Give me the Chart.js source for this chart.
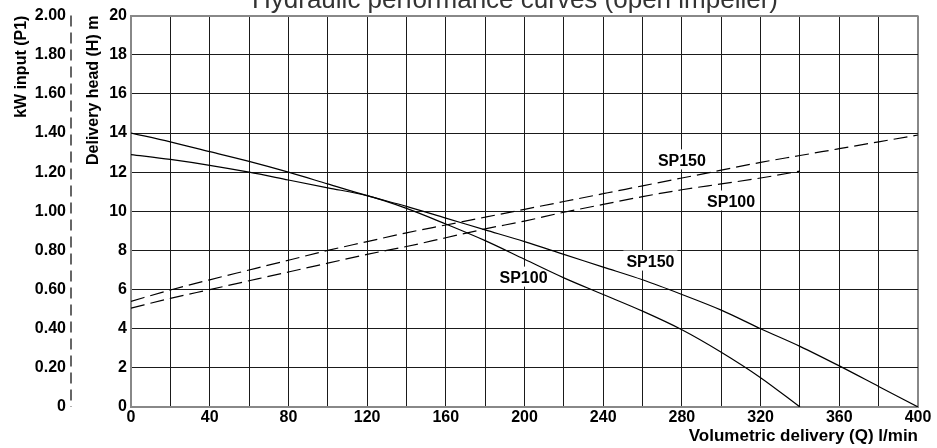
<!DOCTYPE html>
<html>
<head>
<meta charset="utf-8">
<script src="https://cdn.jsdelivr.net/npm/chart.js@4"></script>
<style>
  html, body { margin: 0; padding: 0; background: #fff; }
</style>
</head>
<body>
<canvas id="chart" width="937" height="448"></canvas>
<script>
// flow steps (l/min)
const flowQ = [0, 20, 40, 60, 80, 100, 120, 140, 160, 180, 200, 220, 240, 260, 280, 300, 320, 340, 360, 380, 400];

// delivery head (m)
const headSP150 = [14.0, 13.55, 13.05, 12.55, 12.0, 11.4, 10.8, 10.25, 9.65, 9.05, 8.45, 7.8, 7.15, 6.5, 5.75, 4.95, 4.0, 3.1, 2.1, 1.05, 0];
const headSP100 = [12.9, 12.65, 12.35, 12.0, 11.6, 11.2, 10.8, 10.15, 9.35, 8.5, 7.55, 6.6, 5.75, 4.9, 3.95, 2.8, 1.5, 0];

// kW input (P1)
const powerSP150 = [0.54, 0.598, 0.65, 0.70, 0.75, 0.80, 0.845, 0.89, 0.93, 0.97, 1.01, 1.05, 1.09, 1.13, 1.17, 1.21, 1.25, 1.285, 1.32, 1.355, 1.39];
const powerSP100 = [0.505, 0.555, 0.60, 0.645, 0.69, 0.735, 0.78, 0.82, 0.865, 0.91, 0.95, 0.995, 1.035, 1.075, 1.11, 1.14, 1.17, 1.205];

const chartTitle = 'Hydraulic performance curves (open impeller)';

// curve names written on the plot (data coords: Q, H)
const curveLabels = [
  { text: 'SP150', q: 280, h: 12.55 },
  { text: 'SP100', q: 305, h: 10.45 },
  { text: 'SP150', q: 264, h: 7.38 },
  { text: 'SP100', q: 199.5, h: 6.56 },
];

const toPoints = (vals) => vals.map((v, i) => ({ x: flowQ[i], y: v }));

const FONT = '"Liberation Sans", Arial, sans-serif';
Chart.defaults.font.family = FONT;
Chart.defaults.color = '#000';

const isEdge = (ctx) => ctx.index === 0 || ctx.index === ctx.scale.ticks.length - 1;
const gridColor = (ctx) => isEdge(ctx) ? '#888' : '#1a1a1a';
const gridWidth = (ctx) => isEdge(ctx) ? 2 : 1;

const overlay = {
  id: 'overlay',
  beforeDatasetsDraw(chart) {
    const { ctx, scales: { x, y } } = chart;
    ctx.save();
    ctx.font = 'bold 16px ' + FONT;
    ctx.textAlign = 'center';
    ctx.textBaseline = 'middle';
    curveLabels.forEach(l => {
      const px = x.getPixelForValue(l.q);
      const py = y.getPixelForValue(l.h);
      const w = ctx.measureText(l.text).width + 6;
      ctx.fillStyle = '#fff';
      ctx.fillRect(px - w / 2, py - 12, w, 20);
      ctx.fillStyle = '#000';
      ctx.fillText(l.text, px, py);
    });
    ctx.restore();
  },
  afterDraw(chart) {
    const ctx = chart.ctx;
    const kw = chart.scales.kw;
    ctx.save();
    // dashed kW axis line
    ctx.strokeStyle = '#666';
    ctx.lineWidth = 2;
    ctx.setLineDash([11, 6]);
    ctx.beginPath();
    ctx.moveTo(kw.right - 1, kw.top);
    ctx.lineTo(kw.right - 1, kw.bottom);
    ctx.stroke();
    ctx.setLineDash([]);
    // main title, partly cut by the top edge
    ctx.font = '26px ' + FONT;
    ctx.fillStyle = '#333';
    ctx.textAlign = 'center';
    ctx.textBaseline = 'alphabetic';
    ctx.fillText(chartTitle, 515, 8);
    ctx.restore();
  }
};

new Chart(document.getElementById('chart'), {
  type: 'line',
  data: {
    datasets: [
      { label: 'SP150 head', data: toPoints(headSP150), yAxisID: 'y', borderColor: '#000', borderWidth: 1.2 },
      { label: 'SP100 head', data: toPoints(headSP100), yAxisID: 'y', borderColor: '#000', borderWidth: 1.2 },
      { label: 'SP150 kW', data: toPoints(powerSP150), yAxisID: 'kw', borderColor: '#000', borderWidth: 1.2, borderDash: [14, 6] },
      { label: 'SP100 kW', data: toPoints(powerSP100), yAxisID: 'kw', borderColor: '#000', borderWidth: 1.2, borderDash: [14, 6] },
    ]
  },
  options: {
    responsive: false,
    animation: false,
    layout: { padding: { top: 14, right: 19, bottom: 0, left: 0 } },
    elements: {
      point: { radius: 0 },
      line: { cubicInterpolationMode: 'monotone', fill: false }
    },
    plugins: {
      legend: { display: false },
      tooltip: { enabled: false }
    },
    scales: {
      x: {
        type: 'linear',
        min: 0,
        max: 400,
        afterFit: (s) => { s.height = 41; },
        ticks: {
          stepSize: 20,
          autoSkip: false,
          maxRotation: 0,
          padding: 1,
          font: { size: 16, weight: 'bold' },
          callback: (v) => v % 40 === 0 ? v : ''
        },
        grid: { drawTicks: false, color: gridColor, lineWidth: gridWidth },
        border: { color: '#888', width: 2 },
        title: {
          display: true,
          text: 'Volumetric delivery (Q) l/min',
          align: 'end',
          font: { size: 17, weight: 'bold' },
          padding: { top: 0, bottom: 1 }
        }
      },
      y: {
        position: 'left',
        weight: 0,
        min: 0,
        max: 20,
        afterFit: (s) => { s.width = 59; },
        ticks: { stepSize: 2, padding: 4, font: { size: 16, weight: 'bold' } },
        grid: { drawTicks: false, color: gridColor, lineWidth: gridWidth },
        border: { color: '#888', width: 2 },
        title: {
          display: true,
          text: 'Delivery head (H) m',
          align: 'end',
          font: { size: 16, weight: 'bold' },
          padding: { top: 12, bottom: 0 }
        }
      },
      kw: {
        position: 'left',
        weight: 1,
        min: 0,
        max: 2,
        afterFit: (s) => { s.width = 72; },
        ticks: {
          stepSize: 0.2,
          padding: 6,
          font: { size: 16, weight: 'bold' },
          callback: (v) => v === 0 ? '0' : v.toFixed(2)
        },
        grid: { display: false, drawTicks: false },
        border: { display: false },
        title: {
          display: true,
          text: 'kW input (P1)',
          align: 'end',
          font: { size: 16, weight: 'bold' },
          padding: { top: 12, bottom: 0 }
        }
      }
    }
  },
  plugins: [overlay]
});
</script>
</body>
</html>
